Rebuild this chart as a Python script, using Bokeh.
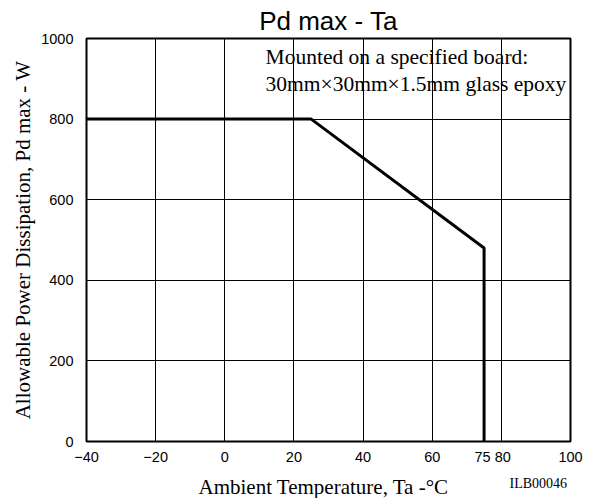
from bokeh.plotting import figure
from bokeh.models import Range1d, FixedTicker, Label
from bokeh.layouts import column
from bokeh.embed import file_html
from bokeh.resources import INLINE

# Data
temperature = [-40, 25, 75, 75]
pd_max = [800, 800, 480, 0]
x_ticks = [-40, -20, 0, 20, 40, 60, 75, 80, 100]
x_grid = [-20, 0, 20, 40, 60, 80]
y_ticks = [0, 200, 400, 600, 800, 1000]
y_grid = [200, 400, 600, 800]
x_tick_labels = {-40: "\u221240", -20: "\u221220", 75: "75\u2009", 80: "\u200980"}

LEFT, RIGHT = 86, 25

p = figure(width=595, height=467, output_backend="svg", toolbar_location=None,
           x_range=Range1d(-40, 100), y_range=Range1d(0, 1000),
           min_border_left=LEFT, min_border_right=RIGHT, min_border_top=38, min_border_bottom=21)

p.title.text = "Pd max - Ta"
p.title.align = "center"
p.title.text_font = "Liberation Sans"
p.title.text_font_style = "normal"
p.title.text_font_size = "26px"
p.title.text_color = "black"
p.title.standoff = 5

p.outline_line_color = "black"
p.outline_line_width = 2
p.background_fill_color = "white"
p.border_fill_color = "white"

for ax in (p.xaxis[0], p.yaxis[0]):
    ax.axis_line_color = None
    ax.major_tick_line_color = None
    ax.minor_tick_line_color = None
    ax.major_label_text_font = "Liberation Sans"
    ax.major_label_text_font_size = "14.5px"
    ax.major_label_text_color = "black"
    ax.axis_label_text_font = "Liberation Serif"
    ax.axis_label_text_font_style = "normal"
    ax.axis_label_text_font_size = "21px"
    ax.axis_label_text_color = "black"

p.xaxis.ticker = FixedTicker(ticks=x_ticks)
p.xaxis.major_label_overrides = x_tick_labels
p.xaxis.major_label_standoff = 1

p.yaxis.ticker = FixedTicker(ticks=y_ticks)
p.yaxis.axis_label = "Allowable Power Dissipation, Pd max - W"
p.yaxis.major_label_standoff = 7
p.yaxis.axis_label_standoff = 3

p.xgrid.ticker = FixedTicker(ticks=x_grid)
p.ygrid.ticker = FixedTicker(ticks=y_grid)
for g in (p.xgrid[0], p.ygrid[0]):
    g.grid_line_color = "black"
    g.grid_line_width = 1
    g.grid_line_alpha = 1.0

p.line(temperature, pd_max, line_color="black", line_width=3)

p.add_layout(Label(x=11.8, y=953, text="Mounted on a specified board:",
                   text_font="Liberation Serif", text_font_size="21.5px",
                   text_color="black", text_baseline="alphabetic"))
p.add_layout(Label(x=11.8, y=887, text="30mm\u00d730mm\u00d71.5mm glass epoxy",
                   text_font="Liberation Serif", text_font_size="21.5px",
                   text_color="black", text_baseline="alphabetic"))

# Footer strip holding the x-axis title and the drawing code
p2 = figure(width=595, height=31, output_backend="svg", toolbar_location=None,
            x_range=p.x_range, y_range=Range1d(0, 31),
            x_axis_type=None, y_axis_type=None,
            min_border_left=LEFT, min_border_right=RIGHT, min_border_top=0, min_border_bottom=0)
p2.title = None
p2.outline_line_color = None
p2.grid.visible = False
p2.background_fill_color = "white"
p2.border_fill_color = "white"

p2.add_layout(Label(x=28.6, y=12, text="Ambient Temperature, Ta -\u00b0C", text_align="center",
                    text_font="Liberation Serif", text_font_size="21px",
                    text_color="black", text_baseline="alphabetic"))
p2.add_layout(Label(x=99, y=15, text="ILB00046", text_align="right",
                    text_font="Liberation Serif", text_font_size="14px",
                    text_color="black", text_baseline="alphabetic"))

open("out.html", "w").write(file_html(column(p, p2), INLINE))
